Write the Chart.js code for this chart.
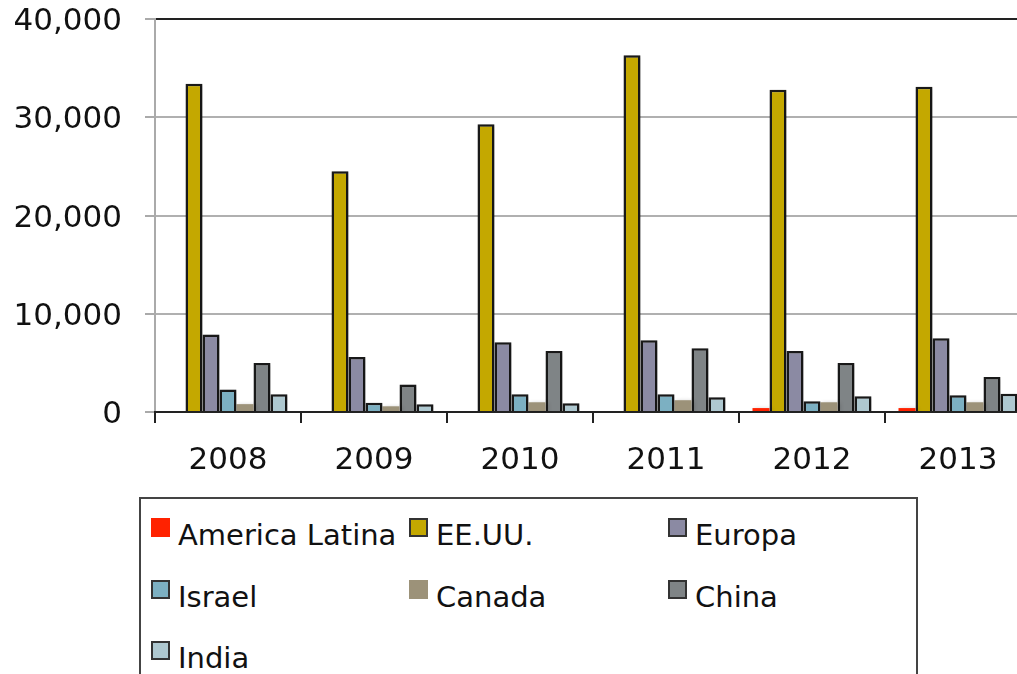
<!DOCTYPE html>
<html>
<head>
<meta charset="utf-8">
<script src="https://cdn.jsdelivr.net/npm/chart.js@4/dist/chart.umd.min.js"></script>
<style>
    html, body { margin: 0; padding: 0; background: #ffffff; }
    body { width: 1017px; height: 674px; overflow: hidden; position: relative; }
    #wrap { position: absolute; left: 0; top: 0; width: 1040px; height: 674px; }
    #legendBox {
        position: absolute; left: 139px; top: 497px; width: 775px; height: 200px;
        border: 2px solid #444; background: #fff;
        font-family: 'DejaVu Sans', sans-serif; font-size: 29px; color: #111;
    }
    .item { position: absolute; height: 36px; line-height: 36px; white-space: nowrap; padding-left: 27px; }
    .item .sw { position: absolute; left: 0; top: 1px; width: 19px; height: 19px; box-sizing: border-box; }
</style>
</head>
<body>
<div id="wrap"><canvas id="chart" width="1040" height="674"></canvas></div>
<div id="legendBox"></div>
<script>
// datos
const years = ['2008', '2009', '2010', '2011', '2012', '2013'];
const americaLatina = [100, 100, 100, 100, 400, 400];
const eeuu = [33400, 24500, 29300, 36300, 32800, 33100];
const europa = [7900, 5600, 7100, 7300, 6200, 7500];
const israel = [2300, 950, 1800, 1800, 1100, 1700];
const canada = [800, 580, 990, 1200, 990, 990];
const china = [5000, 2800, 6200, 6500, 5000, 3550];
const india = [1800, 780, 900, 1500, 1600, 1850];
const yTicks = [0, 10000, 20000, 30000, 40000];

const series = [
    { label: 'America Latina', data: americaLatina, color: '#ff2200', border: false },
    { label: 'EE.UU.', data: eeuu, color: '#c4a800', border: true },
    { label: 'Europa', data: europa, color: '#8b8aa3', border: true },
    { label: 'Israel', data: israel, color: '#7cb0c2', border: true },
    { label: 'Canada', data: canada, color: '#9c9279', border: false },
    { label: 'China', data: china, color: '#7f8486', border: true },
    { label: 'India', data: india, color: '#aec8d0', border: true }
];

// sombra suave bajo las barras
const shadowPlugin = {
    id: 'barShadow',
    beforeDatasetsDraw(chart) {
        const ctx = chart.ctx;
        ctx.save();
        ctx.shadowColor = 'rgba(0,0,0,0.25)';
        ctx.shadowBlur = 4;
        ctx.shadowOffsetX = 2;
        ctx.shadowOffsetY = 1;
    },
    afterDatasetsDraw(chart) {
        chart.ctx.restore();
    }
};

const ctx = document.getElementById('chart').getContext('2d');
const chart = new Chart(ctx, {
    type: 'bar',
    data: {
        labels: years,
        datasets: series.map(s => ({
            label: s.label,
            data: s.data,
            backgroundColor: s.color,
            borderColor: '#1a1a1a',
            borderWidth: s.border ? 2.5 : 0,
            barPercentage: 1.0,
            categoryPercentage: 0.815
        }))
    },
    options: {
        responsive: false,
        animation: false,
        layout: { padding: { top: 19, right: 9, bottom: 192, left: 0 } },
        plugins: {
            legend: { display: false },
            tooltip: { enabled: false }
        },
        scales: {
            y: {
                min: 0,
                max: 40000,
                afterBuildTicks: axis => { axis.ticks = yTicks.map(v => ({ value: v })); },
                afterFit: axis => {
                    axis.width = 155;
                    axis.paddingTop = 0;
                    axis.paddingBottom = 0;
                },
                border: { color: '#aaaaaa', width: 2 },
                grid: {
                    color: c => (c.tick && c.tick.value === 40000) ? '#222222' : '#b0b0b0',
                    lineWidth: 2,
                    tickLength: 10,
                    tickColor: '#aaaaaa'
                },
                ticks: {
                    color: '#111111',
                    padding: 23,
                    labelOffset: 3,
                    font: { family: 'DejaVu Sans', size: 31 },
                    callback: v => v.toLocaleString('en-US')
                }
            },
            x: {
                afterFit: axis => { axis.height = 70; },
                border: { color: '#222222', width: 2 },
                grid: {
                    drawOnChartArea: false,
                    tickLength: 11,
                    tickColor: '#222222',
                    lineWidth: 2
                },
                ticks: {
                    color: '#111111',
                    padding: 19,
                    maxRotation: 0,
                    font: { family: 'DejaVu Sans', size: 31 }
                }
            }
        }
    },
    plugins: [shadowPlugin]
});

// leyenda en tres columnas
const legendBox = document.getElementById('legendBox');
const colX = [10, 268, 527];
const rowY = [18, 80, 141];
chart.data.datasets.forEach((ds, i) => {
    const item = document.createElement('div');
    item.className = 'item';
    item.style.left = colX[i % 3] + 'px';
    item.style.top = rowY[Math.floor(i / 3)] + 'px';
    const sw = document.createElement('span');
    sw.className = 'sw';
    sw.style.background = ds.backgroundColor;
    if (ds.borderWidth > 0) sw.style.border = '2px solid #333';
    item.appendChild(sw);
    item.appendChild(document.createTextNode(ds.label));
    legendBox.appendChild(item);
});
</script>
</body>
</html>
